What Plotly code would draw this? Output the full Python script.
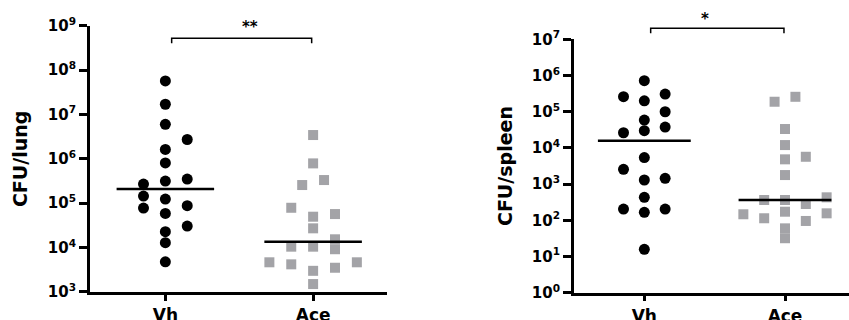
import plotly.graph_objects as go

# CFU counts (one value per mouse)
groups = ["Vh", "Ace"]

lung_vh = [5.7e7, 1.7e7, 6.0e6, 1.63e6, 8.1e5, 3.15e5, 1.24e5, 5.9e4, 2.28e4, 1.29e4, 4.8e3,
           2.7e5, 1.45e5, 7.8e4,
           2.73e6, 3.5e5, 8.8e4, 3.05e4]
lung_ace = [3.44e6, 7.9e5, 2.57e5, 3.33e5, 7.9e4, 4.97e4, 5.7e4, 2.72e4, 1.54e4, 9.2e3,
            1.05e4, 1.05e4, 4.67e3, 4.2e3, 3.52e3, 4.67e3, 3.0e3, 1.51e3]
spleen_vh = [7.2e5, 2.0e5, 5.9e4, 3.0e4, 5.4e3, 1.3e3, 432, 166, 15.8,
             2.6e5, 2.63e4, 2.56e3, 205,
             3.08e5, 1.0e5, 3.78e4, 1.45e3, 205]
spleen_ace = [1.89e5, 2.59e5, 3.33e4, 1.2e4, 4.84e3, 5.7e3, 1.78e3, 364, 364, 173,
              282, 432, 147, 114, 156, 96, 60, 32]

medians_lung = [2.08e5, 1.36e4]
medians_spleen = [1.58e4, 364]

# scatter column of each point (GraphPad-style spreading), in half-marker steps
lung_vh_col = [0] * 11 + [-2] * 3 + [2] * 4
lung_ace_col = [0, 0, -1, 1, -2, 0, 2, 0, 2, 2, -2, 0, -4, -2, 2, 4, 0, 0]
spleen_vh_col = [0] * 9 + [-2] * 4 + [2] * 5
spleen_ace_col = [-1, 1, 0, 0, 0, 2, 0, -2, 0, 0, 2, 4, -4, -2, 4, 2, 0, 0]

STEP = 0.074
FONT = "DejaVu Sans"
GREY = "#a3a3a7"

fig = go.Figure()


def add_panel(xa, ya, vh, vh_col, ace, ace_col, medians):
    fig.add_trace(go.Scatter(x=[c * STEP for c in vh_col], y=vh, mode="markers",
                             marker=dict(symbol="circle", size=11, color="black"),
                             xaxis=xa, yaxis=ya, showlegend=False, cliponaxis=False))
    fig.add_trace(go.Scatter(x=[1 + c * STEP for c in ace_col], y=ace, mode="markers",
                             marker=dict(symbol="square", size=10, color=GREY),
                             xaxis=xa, yaxis=ya, showlegend=False, cliponaxis=False))
    for i, m in enumerate(medians):
        fig.add_trace(go.Scatter(x=[i - 0.33, i + 0.33], y=[m, m], mode="lines",
                                 line=dict(color="black", width=2.5),
                                 xaxis=xa, yaxis=ya, showlegend=False, cliponaxis=False))


add_panel("x", "y", lung_vh, lung_vh_col, lung_ace, lung_ace_col, medians_lung)
add_panel("x2", "y2", spleen_vh, spleen_vh_col, spleen_ace, spleen_ace_col, medians_spleen)

xcommon = dict(tickvals=[0, 1], ticktext=groups, showline=True, linewidth=2.5, linecolor="black",
               ticks="outside", ticklen=6, tickwidth=2.5, tickcolor="black", showgrid=False,
               zeroline=False, automargin=False,
               tickfont=dict(family=FONT, size=17, color="black", weight="bold"))
ycommon = dict(type="log", showline=True, linewidth=3, linecolor="black", ticks="outside",
               ticklen=8, tickwidth=2.5, tickcolor="black", showgrid=False, zeroline=False,
               automargin=False,
               tickfont=dict(family=FONT, size=15, color="black", weight="bold"))

fig.update_layout(
    width=849, height=320, autosize=False,
    margin=dict(l=0, r=0, t=0, b=0),
    plot_bgcolor="white", paper_bgcolor="white",
    xaxis=dict(xcommon, domain=[90 / 849, 387 / 849], range=[-0.51, 1.5], anchor="y"),
    yaxis=dict(ycommon, domain=[0.0875, 0.9197], range=[3, 9], anchor="x",
               tickvals=[10 ** k for k in range(3, 10)],
               ticktext=["10<sup>%d</sup>" % k for k in range(3, 10)],
               title=dict(text="CFU/lung", standoff=16,
                          font=dict(family=FONT, size=19, color="black", weight="bold"))),
    xaxis2=dict(xcommon, domain=[574 / 849, 1.0], range=[-0.5, 1.455], anchor="y2"),
    yaxis2=dict(ycommon, domain=[0.0853, 0.877], range=[0, 7], anchor="x2",
                tickvals=[10 ** k for k in range(0, 8)],
                ticktext=["10<sup>%d</sup>" % k for k in range(0, 8)],
                title=dict(text="CFU/spleen", standoff=15,
                           font=dict(family=FONT, size=19, color="black", weight="bold"))),
)

# significance brackets
br = dict(color="black", width=1.5)
for x0, x1, ytop, ybot in [(0.2022, 0.3671, 0.8803, 0.8647), (0.7664, 0.9234, 0.9116, 0.8959)]:
    fig.add_shape(type="path", xref="paper", yref="paper",
                  path="M %f %f L %f %f L %f %f L %f %f" % (x0, ybot, x0, ytop, x1, ytop, x1, ybot),
                  line=br)
fig.add_annotation(text="**", x=0.2827, y=0.949, xref="paper", yref="paper", showarrow=False,
                   font=dict(family=FONT, size=15, color="black", weight="bold"))
fig.add_annotation(text="*", x=0.8375, y=0.975, xref="paper", yref="paper", showarrow=False,
                   font=dict(family=FONT, size=15, color="black", weight="bold"))

fig.write_html("out.html", config={"responsive": False, "displayModeBar": False},
               post_script="document.body.style.margin='0';")
